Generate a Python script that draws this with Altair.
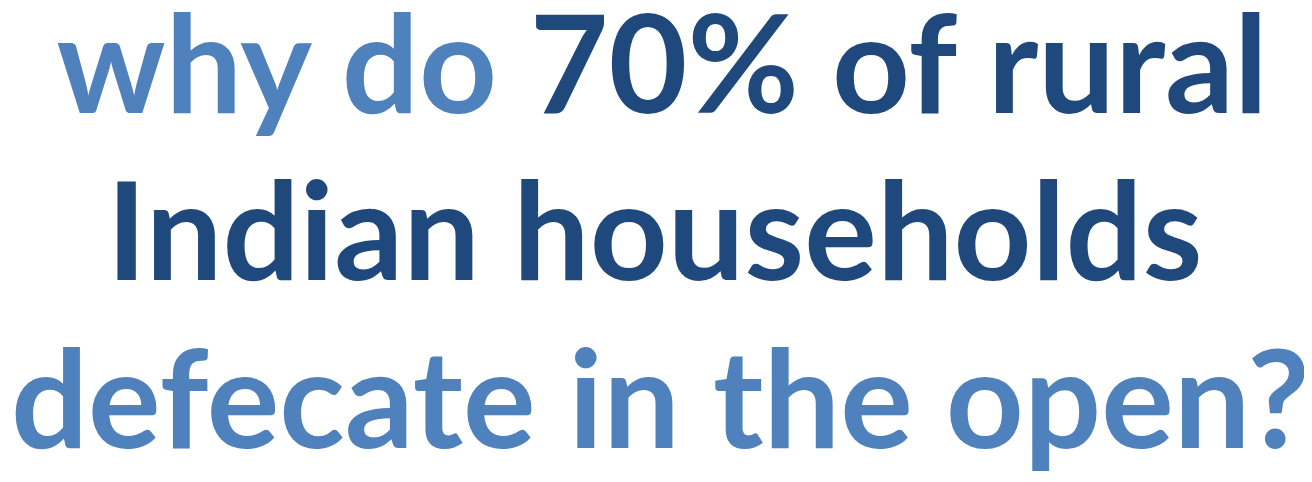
import altair as alt
import pandas as pd

# Text segments of the title graphic
segments = ["why do", "70% of rural", "Indian households", "defecate in the open?"]
tones = ["light", "dark", "dark", "light"]
anchors_x = [502, 535, 661, 667]     # reference-pixel anchor of each segment
baselines_y = [110, 110, 282, 456]   # reference-pixel baseline of each segment
aligns = ["right", "left", "center", "center"]

df = pd.DataFrame({
    "text": segments,
    "tone": tones,
    "x": anchors_x,
    "y": baselines_y,
    "align": aligns,
})

xs = alt.Scale(domain=[8, 1304])
ys = alt.Scale(domain=[8, 474], reverse=True)
color = alt.Color("tone:N", scale=alt.Scale(domain=["light", "dark"], range=["#4F81BD", "#1F497D"]), legend=None)

def layer(al):
    return alt.Chart(df).transform_filter(alt.datum.align == al).mark_text(
        font="Lato", fontWeight="bold", fontSize=136, align=al, baseline="alphabetic"
    ).encode(
        x=alt.X("x:Q", scale=xs, axis=None),
        y=alt.Y("y:Q", scale=ys, axis=None),
        text="text:N",
        color=color,
    )

chart = alt.layer(layer("right"), layer("left"), layer("center")).properties(
    width=1296, height=466,
    autosize=alt.AutoSizeParams(type="fit", contains="padding"),
    padding=0,
    background="white",
).configure_view(stroke=None)

chart.save("out.html", embed_options={"renderer": "svg", "actions": False})
